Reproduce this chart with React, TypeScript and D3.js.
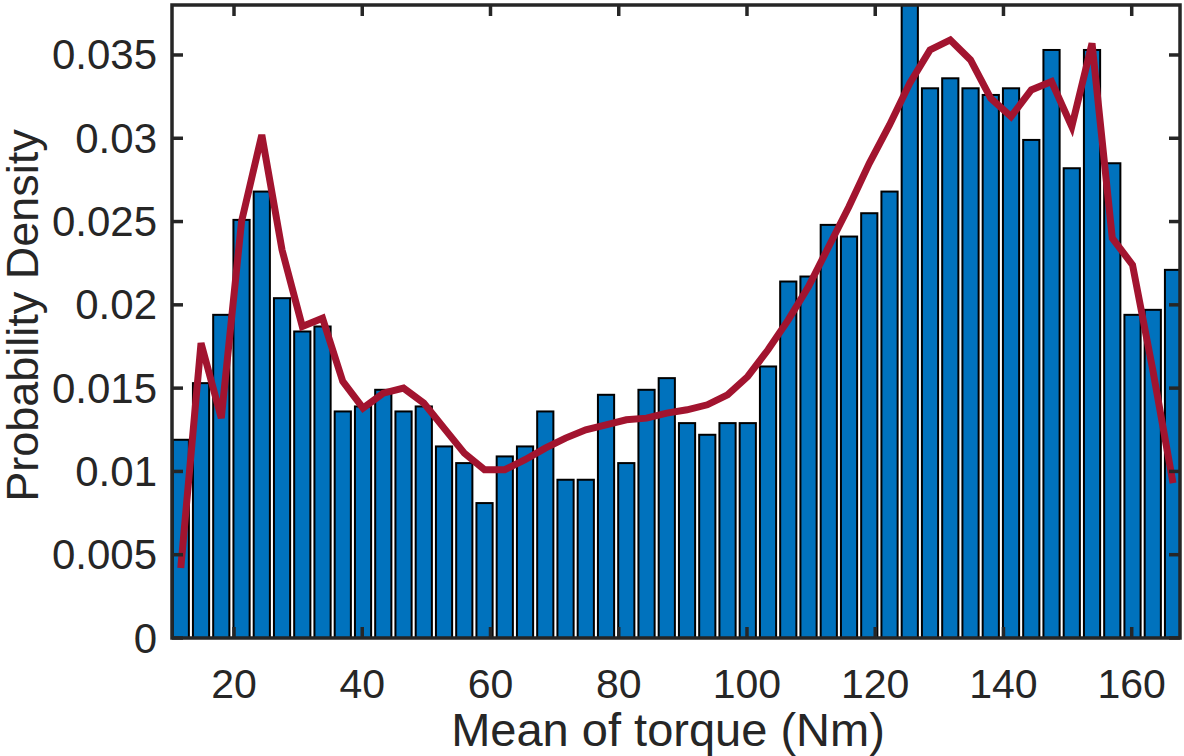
import { useEffect, useRef } from 'react'
import * as d3 from 'd3'

// histogram of mean torque, 50 bins
const BIN_FIRST_CENTER = 11.70
const BIN_WIDTH = 3.158
const density = [
  0.0119, 0.0153, 0.0194, 0.0251, 0.0268, 0.0204, 0.0184, 0.0187, 0.0136, 0.0139,
  0.0149, 0.0136, 0.0139, 0.0115, 0.0105, 0.0081, 0.0109, 0.0115, 0.0136, 0.0095,
  0.0095, 0.0146, 0.0105, 0.0149, 0.0156, 0.0129, 0.0122, 0.0129, 0.0129, 0.0163,
  0.0214, 0.0217, 0.0248, 0.0241, 0.0255, 0.0268, 0.0392, 0.0330, 0.0336, 0.0330,
  0.0326, 0.0330, 0.0299, 0.0353, 0.0282, 0.0353, 0.0285, 0.0194, 0.0197, 0.0221,
]
// fitted density evaluated at the bin centers
const fitted = [
  0.0042, 0.0177, 0.0132, 0.0250, 0.0302, 0.0233, 0.0187, 0.0192, 0.0154, 0.0138,
  0.0147, 0.0150, 0.0141, 0.0126, 0.0111, 0.0101, 0.0101, 0.0107, 0.0114, 0.0120,
  0.0125, 0.0128, 0.0131, 0.0132, 0.0135, 0.0137, 0.0140, 0.0146, 0.0157, 0.0173,
  0.0191, 0.0211, 0.0235, 0.0259, 0.0285, 0.0308, 0.0333, 0.0353, 0.0359, 0.0347,
  0.0324, 0.0313, 0.0329, 0.0334, 0.0307, 0.0357, 0.0240, 0.0224, 0.0161, 0.0093,
]
const xTicks = [20, 40, 60, 80, 100, 120, 140, 160]
const yTicks = [0, 0.005, 0.01, 0.015, 0.02, 0.025, 0.03, 0.035]
const X_DOMAIN = [10.33, 167.53]
const Y_DOMAIN = [0, 0.038]

const W = 1184, H = 756
const M = { left: 172, right: 4, top: 5, bottom: 118 }
const FONT = '"Liberation Sans", Arial, Helvetica, sans-serif'
const AXIS = '#262626'

export default function App() {
  const svgRef = useRef<SVGSVGElement>(null)

  useEffect(() => {
    const svg = d3.select(svgRef.current)
    svg.selectAll('*').remove()

    const x = d3.scaleLinear().domain(X_DOMAIN).range([M.left, W - M.right])
    const y = d3.scaleLinear().domain(Y_DOMAIN).range([H - M.bottom, M.top])
    const [x0, x1] = x.range()
    const [y0, y1] = y.range()

    svg.append('defs').append('clipPath').attr('id', 'plot-clip')
      .append('rect').attr('x', x0).attr('y', y1).attr('width', x1 - x0).attr('height', y0 - y1)

    const centers = density.map((_, i) => BIN_FIRST_CENTER + i * BIN_WIDTH)
    const bw = x(BIN_WIDTH * 0.8) - x(0)

    const plot = svg.append('g').attr('clip-path', 'url(#plot-clip)')

    plot.selectAll('rect.bar')
      .data(density)
      .join('rect')
      .attr('class', 'bar')
      .attr('x', (_, i) => x(centers[i]) - bw / 2)
      .attr('width', bw)
      .attr('y', d => y(d))
      .attr('height', d => y(0) - y(d))
      .attr('fill', '#0072BD')
      .attr('stroke', '#000')
      .attr('stroke-width', 2)

    const line = d3.line<number>().x((_, i) => x(centers[i])).y(d => y(d))
    plot.append('path')
      .attr('d', line(fitted))
      .attr('fill', 'none')
      .attr('stroke', '#A2142F')
      .attr('stroke-width', 7)
      .attr('stroke-linejoin', 'miter')

    // axes box + ticks on all four sides (MATLAB style, inward)
    const TL = 11
    const ax = svg.append('g').attr('stroke', AXIS).attr('stroke-width', 3.5)
    ax.append('rect').attr('x', x0).attr('y', y1).attr('width', x1 - x0).attr('height', y0 - y1).attr('fill', 'none')
    xTicks.forEach(t => {
      ax.append('line').attr('x1', x(t)).attr('x2', x(t)).attr('y1', y0).attr('y2', y0 - TL)
      ax.append('line').attr('x1', x(t)).attr('x2', x(t)).attr('y1', y1).attr('y2', y1 + TL)
    })
    yTicks.forEach(t => {
      ax.append('line').attr('x1', x0).attr('x2', x0 + TL).attr('y1', y(t)).attr('y2', y(t))
      ax.append('line').attr('x1', x1).attr('x2', x1 - TL).attr('y1', y(t)).attr('y2', y(t))
    })

    const txt = svg.append('g').attr('fill', '#262626').attr('font-family', FONT)
    txt.selectAll('text.xt').data(xTicks).join('text')
      .attr('class', 'xt')
      .attr('x', d => x(d)).attr('y', y0 + 60)
      .attr('text-anchor', 'middle').attr('font-size', 41)
      .text(d => d)
    txt.selectAll('text.yt').data(yTicks).join('text')
      .attr('class', 'yt')
      .attr('x', x0 - 15).attr('y', d => y(d) + 14.5)
      .attr('text-anchor', 'end').attr('font-size', 42)
      .text(d => (d === 0 ? '0' : String(+d.toFixed(3))))

    txt.append('text')
      .attr('x', (x0 + x1) / 2 - 8).attr('y', H - 10)
      .attr('text-anchor', 'middle').attr('font-size', 47)
      .text('Mean of torque (Nm)')
    txt.append('text')
      .attr('transform', `translate(38,${(y0 + y1) / 2 - 6}) rotate(-90)`)
      .attr('text-anchor', 'middle').attr('font-size', 45)
      .text('Probability Density')
  }, [])

  return (
    <div style={{ width: W, height: H, background: '#fff' }}>
      <style>{'body{margin:0}'}</style>
      <svg ref={svgRef} width={W} height={H} style={{ display: 'block' }} />
    </div>
  )
}
